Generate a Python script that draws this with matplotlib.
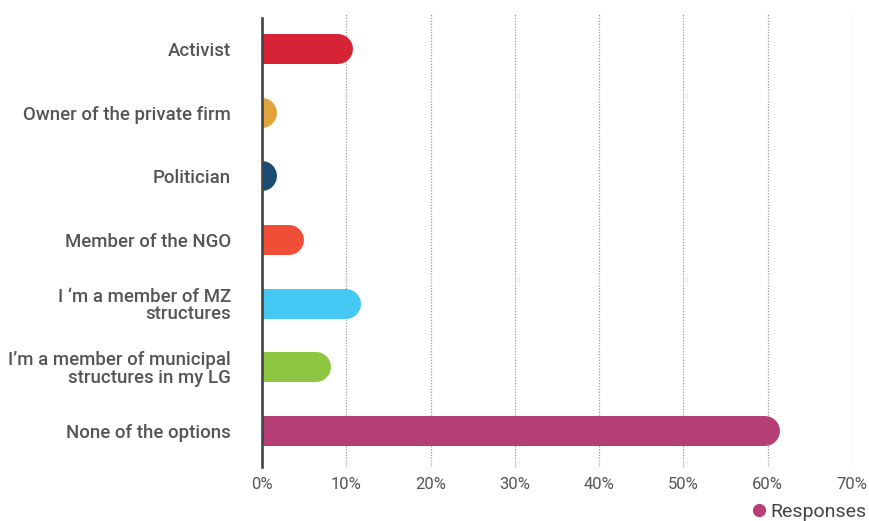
import matplotlib
matplotlib.use("Agg")
import matplotlib.pyplot as plt
from matplotlib.lines import Line2D

plt.rcParams['font.family'] = ['Roboto', 'DejaVu Sans']

categories = [
    "Activist",
    "Owner of the private firm",
    "Politician",
    "Member of the NGO",
    "I \u2018m a member of MZ\nstructures",
    "I\u2019m a member of municipal\nstructures in my LG",
    "None of the options",
]
values = [10.8, 1.8, 1.8, 5.0, 11.8, 8.2, 61.5]
colors = ["#D62436", "#E0A43A", "#1B4D72", "#F04E37", "#45C8F3", "#8DC641", "#B53F75"]
xticks = [0, 10, 20, 30, 40, 50, 60, 70]
xticklabels = ["0%", "10%", "20%", "30%", "40%", "50%", "60%", "70%"]
legend_label = "Responses"

W, H, DPI = 869, 521, 100
fig = plt.figure(figsize=(W / DPI, H / DPI), dpi=DPI)
left_px, right_px, top_px, bottom_px = 262, 852, 13, 467
ax = fig.add_axes([left_px / W, 1 - bottom_px / H,
                   (right_px - left_px) / W, (bottom_px - top_px) / H])

ax.set_xlim(0, 70)
ax.set_ylim(len(categories) - 1 + 0.565, -0.565)

# dotted vertical gridlines
for t in xticks[1:]:
    ax.axvline(t, color="#9a9a9a", lw=0.9, ls=(0, (1, 1.3)), zorder=0)

# bars with a rounded right end: thick lines with round caps
bar_px = 30
lw_pt = bar_px * 72 / DPI
px_per_unit = (right_px - left_px) / 70
r = (bar_px / 2) / px_per_unit
for i, (v, c) in enumerate(zip(values, colors)):
    end = max(v - r, 0.05)
    ax.plot([-r, end], [i, i], color=c, lw=lw_pt, solid_capstyle="round",
            zorder=2)

# left axis line
frac = (bottom_px - 18) / (bottom_px - top_px)
ax.axvline(0, ymin=0, ymax=frac, color="#444444", lw=1.9, zorder=3,
           clip_on=False)

for s in ax.spines.values():
    s.set_visible(False)

ax.set_yticks(range(len(categories)))
ax.set_yticklabels(categories, fontsize=13.4, color="#555555",
                   fontweight="medium", linespacing=0.98)
ax.tick_params(axis="y", length=0, pad=22.3)
ax.set_xticks(xticks)
ax.set_xticklabels(xticklabels, fontsize=12, color="#555555")
ax.tick_params(axis="x", length=0, pad=7)

handle = Line2D([], [], marker="o", ls="", color=colors[-1], markersize=8.5)
fig.legend([handle], [legend_label], loc="center right",
           bbox_to_anchor=(866 / W, 1 - 512 / H), frameon=False,
           fontsize=14, handletextpad=0.05, borderaxespad=0,
           borderpad=0, labelcolor="#444444", handlelength=1.0)

fig.savefig("out.png", dpi=DPI)
